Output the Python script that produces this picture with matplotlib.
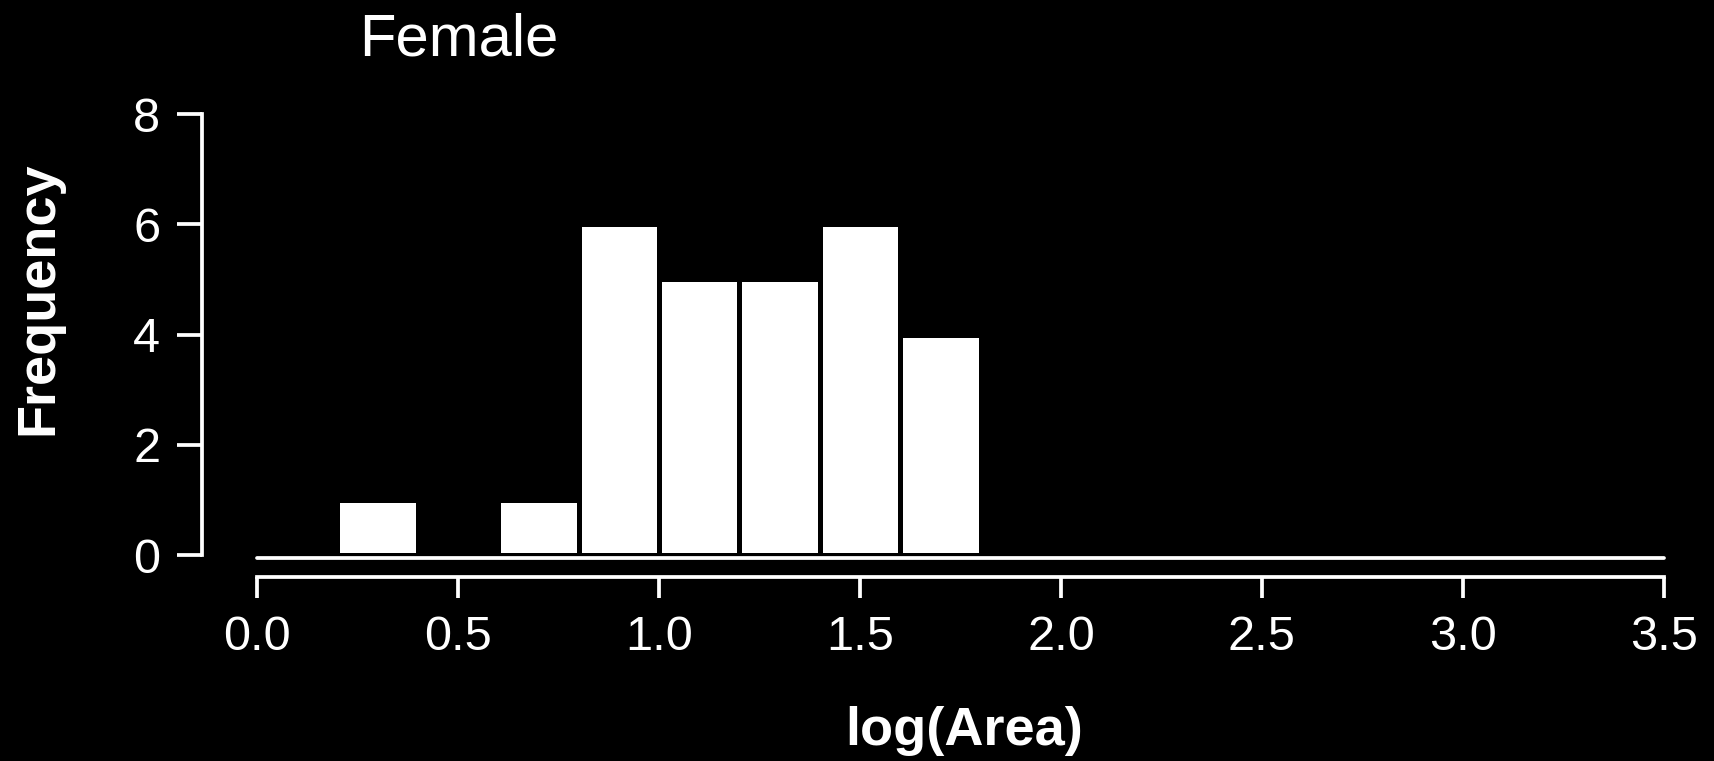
import matplotlib
matplotlib.use("Agg")
import matplotlib.pyplot as plt
import numpy as np

# histogram of log(Area), females
bin_edges = [0.2, 0.4, 0.6, 0.8, 1.0, 1.2, 1.4, 1.6, 1.8]
counts = [1, 0, 1, 6, 5, 5, 6, 4]
x_ticks = [0.0, 0.5, 1.0, 1.5, 2.0, 2.5, 3.0, 3.5]
y_ticks = [0, 2, 4, 6, 8]

plt.rcParams["font.family"] = ["Liberation Sans", "DejaVu Sans"]

fig = plt.figure(figsize=(17.15, 7.61), dpi=100, facecolor="black")
ax = fig.add_axes([202 / 1715, 1 - 577 / 761, 1482 / 1715, 474 / 761])
ax.set_facecolor("black")

lefts = np.array(bin_edges[:-1])
widths = np.diff(bin_edges)
ax.bar(lefts, counts, width=widths, align="edge", color="white",
       edgecolor="black", linewidth=3.6)

# baseline under the bars
ax.plot([x_ticks[0], x_ticks[-1]], [-0.05, -0.05], color="white",
        linewidth=2.7, solid_capstyle="round")

ax.set_xlim(-0.1368, 3.55)
ax.set_ylim(-0.399, 8.2)

for s in ["top", "right"]:
    ax.spines[s].set_visible(False)
for s in ["left", "bottom"]:
    ax.spines[s].set_color("white")
    ax.spines[s].set_linewidth(2.7)
    ax.spines[s].set_capstyle("projecting")
ax.spines["left"].set_bounds(y_ticks[0], y_ticks[-1])
ax.spines["bottom"].set_bounds(x_ticks[0], x_ticks[-1])

ax.set_xticks(x_ticks)
ax.set_xticklabels([f"{v:.1f}" for v in x_ticks])
ax.set_yticks(y_ticks)
ax.tick_params(axis="x", colors="white", length=15, width=2.7,
               labelsize=35, pad=12)
ax.tick_params(axis="y", colors="white", length=18, width=2.7,
               labelsize=35, pad=12)

fig.text(459 / 1715, 1 - 55 / 761, "Female", color="white", fontsize=43,
         ha="center", va="baseline")
fig.text(964 / 1715, 1 - 745 / 761, "log(Area)", color="white", fontsize=39,
         fontweight="bold", ha="center", va="baseline")
fig.text(38 / 1715, 1 - 298 / 761, "Frequency", color="white", fontsize=39,
         fontweight="bold", rotation=90, ha="center", va="center")

fig.savefig("out.png", dpi=100, facecolor="black")
